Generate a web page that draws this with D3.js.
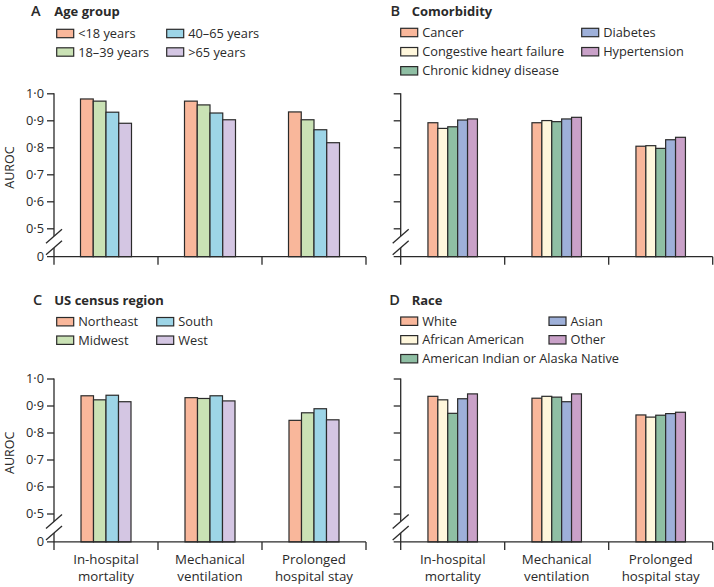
<!DOCTYPE html>
<html>
<head>
<meta charset="utf-8">
<script src="https://cdn.jsdelivr.net/npm/d3@7"></script>
<style>
  html, body { margin: 0; padding: 0; background: #fff; }
  svg { display: block; font-family: "Open Sans", "Noto Sans", sans-serif; }
</style>
</head>
<body>
<svg id="chart" width="714" height="587"></svg>
<script>
// ---------- data ----------
const categories = ["In-hospital mortality", "Mechanical ventilation", "Prolonged hospital stay"];
const categoryLines = [["In-hospital", "mortality"], ["Mechanical", "ventilation"], ["Prolonged", "hospital stay"]];
const yTicks = [0.5, 0.6, 0.7, 0.8, 0.9, 1.0];

const ageGroups = ["<18 years", "18–39 years", "40–65 years", ">65 years"];
const ageValues = [
  [0.979, 0.971, 0.930, 0.889],
  [0.971, 0.957, 0.927, 0.902],
  [0.931, 0.902, 0.865, 0.817]
];

const comorbidities = ["Cancer", "Congestive heart failure", "Chronic kidney disease", "Diabetes", "Hypertension"];
const comorbidityValues = [
  [0.891, 0.870, 0.876, 0.901, 0.905],
  [0.891, 0.899, 0.895, 0.905, 0.911],
  [0.804, 0.806, 0.796, 0.828, 0.837]
];

const regions = ["Northeast", "Midwest", "South", "West"];
const regionValues = [
  [0.936, 0.921, 0.938, 0.914],
  [0.929, 0.926, 0.936, 0.917],
  [0.845, 0.873, 0.888, 0.847]
];

const races = ["White", "African American", "American Indian or Alaska Native", "Asian", "Other"];
const raceValues = [
  [0.934, 0.921, 0.871, 0.925, 0.943],
  [0.927, 0.934, 0.931, 0.914, 0.943],
  [0.865, 0.857, 0.864, 0.870, 0.875]
];

// ---------- styles ----------
const ageColors = ["#f9b79b", "#cae2b5", "#9dd5e7", "#d4c6e3"];
const comorbColors = ["#f9b79b", "#fff7dc", "#8fbfa4", "#9eb0d9", "#c9a1c8"];
const regionColors = ["#f9b79b", "#cae2b5", "#9dd5e7", "#d4c6e3"];
const raceColors = ["#f9b79b", "#fff7dc", "#8fbfa4", "#9eb0d9", "#c9a1c8"];

const ink = "#2a2a2a";
const svg = d3.select("#chart");

const panels = [
  { letter: "A", title: "Age group", series: ageGroups, values: ageValues, colors: ageColors,
    axisX: 54, top: 93.3, letterX: 31, titleX: 54.3, titleY: 15.5,
    legCols: [56.7, 166.7], legRows: [33.5, 52], rowsPerCol: 2, groupW: 51,
    yLabels: true, xLabels: false },
  { letter: "B", title: "Comorbidity", series: comorbidities, values: comorbidityValues, colors: comorbColors,
    axisX: 400.7, top: 93.3, letterX: 390.5, titleX: 411.7, titleY: 15.5,
    legCols: [400.7, 581.7], legRows: [32.5, 51.7, 70.8], rowsPerCol: 3, groupW: 49.5,
    yLabels: false, xLabels: false },
  { letter: "C", title: "US census region", series: regions, values: regionValues, colors: regionColors,
    axisX: 54, top: 378.5, letterX: 33, titleX: 54.3, titleY: 304.5,
    legCols: [56.7, 156.7], legRows: [321.7, 340.2], rowsPerCol: 2, groupW: 50,
    yLabels: true, xLabels: true },
  { letter: "D", title: "Race", series: races, values: raceValues, colors: raceColors,
    axisX: 400.7, top: 378.5, letterX: 389.3, titleX: 411.7, titleY: 304.5,
    legCols: [400.7, 549], legRows: [321.2, 339.8, 358.7], rowsPerCol: 3, groupW: 49.5,
    yLabels: false, xLabels: true }
];

const fmt = v => d3.format(".1f")(v).replace(".", "·");

panels.forEach(p => {
  const g = svg.append("g");
  const y = d3.scaleLinear().domain([0.5, 1.0]).range([p.top + 135, p.top]);
  const base = p.top + 163.4;
  const x0 = d3.scaleBand().domain(categories).range([p.axisX, p.axisX + 312]).padding(0);
  const x1 = d3.scaleBand().domain(p.series)
    .range([(x0.bandwidth() - p.groupW) / 2, (x0.bandwidth() + p.groupW) / 2]).padding(0);
  const color = d3.scaleOrdinal().domain(p.series).range(p.colors);

  // title
  g.append("text").attr("x", p.letterX).attr("y", p.titleY)
    .attr("font-size", 14.5).attr("font-weight", 600).attr("fill", ink).text(p.letter);
  g.append("text").attr("x", p.titleX).attr("y", p.titleY)
    .attr("font-size", 13).attr("font-weight", 700).attr("fill", ink).text(p.title);

  // legend
  p.series.forEach((s, i) => {
    const col = Math.floor(i / p.rowsPerCol), row = i % p.rowsPerCol;
    const lx = p.legCols[col], ly = p.legRows[row];
    g.append("rect").attr("x", lx).attr("y", ly - 4.2).attr("width", 17).attr("height", 8.4)
      .attr("fill", color(s)).attr("stroke", ink).attr("stroke-width", 1.2);
    g.append("text").attr("x", lx + 21.5).attr("y", ly + 4.5)
      .attr("font-size", 12.8).attr("fill", ink).text(s);
  });

  // bars
  const groups = g.append("g").selectAll("g").data(categories).join("g")
    .attr("transform", c => `translate(${x0(c)},0)`);
  groups.selectAll("rect")
    .data((c, ci) => p.series.map((s, si) => ({ s, v: p.values[ci][si] })))
    .join("rect")
    .attr("x", d => x1(d.s)).attr("width", x1.bandwidth())
    .attr("y", d => y(d.v)).attr("height", d => base - y(d.v))
    .attr("fill", d => color(d.s)).attr("stroke", ink).attr("stroke-width", 1.2);

  // y axis (ticks via d3 axis)
  const yAxis = d3.axisLeft(y).tickValues(yTicks).tickSize(7).tickPadding(3)
    .tickFormat(p.yLabels ? fmt : "");
  const ya = g.append("g").attr("transform", `translate(${p.axisX},0)`).call(yAxis);
  ya.select(".domain").remove();
  ya.selectAll(".tick line").attr("stroke", ink).attr("stroke-width", 1.3);
  ya.selectAll(".tick text").attr("font-size", 12.8).attr("fill", ink).attr("font-family", "Open Sans");
  // vertical axis line from 1.0 to baseline
  g.append("line").attr("x1", p.axisX).attr("x2", p.axisX).attr("y1", y(1.0)).attr("y2", base)
    .attr("stroke", ink).attr("stroke-width", 1.3);
  if (p.yLabels) {
    g.append("text").attr("x", p.axisX - 10).attr("y", base + 4.5)
      .attr("text-anchor", "end").attr("font-size", 12.8).attr("fill", ink).text("0");
    g.append("text").attr("transform", `translate(14,${y(0.725)}) rotate(-90)`)
      .attr("text-anchor", "middle").attr("font-size", 12.5).attr("fill", ink).text("AUROC");
  }

  // axis break
  const ax = p.axisX;
  g.append("path")
    .attr("d", `M${ax - 8},${base - 13.5} L${ax + 8},${base - 27.5} L${ax + 8},${base - 16} L${ax - 8},${base - 2} Z`)
    .attr("fill", "#fff");
  [[-13.5, -27.5], [-2, -16]].forEach(([a, b]) => {
    g.append("line").attr("x1", ax - 8).attr("y1", base + a).attr("x2", ax + 8).attr("y2", base + b)
      .attr("stroke", ink).attr("stroke-width", 1.3);
  });

  // x axis
  g.append("line").attr("x1", p.axisX - 7).attr("x2", p.axisX + 312).attr("y1", base).attr("y2", base)
    .attr("stroke", ink).attr("stroke-width", 1.3);
  const xTickPos = categories.map(c => x0(c)).concat([x0(categories[2]) + x0.bandwidth()]);
  xTickPos.forEach(t => {
    g.append("line").attr("x1", t).attr("x2", t).attr("y1", base).attr("y2", base + 8)
      .attr("stroke", ink).attr("stroke-width", 1.3);
  });
  if (p.xLabels) {
    categories.forEach((c, ci) => {
      const t = g.append("text").attr("x", x0(c) + x0.bandwidth() / 2).attr("y", base + 22)
        .attr("text-anchor", "middle").attr("font-size", 13.3).attr("fill", ink);
      categoryLines[ci].forEach((ln, li) => {
        t.append("tspan").attr("x", x0(c) + x0.bandwidth() / 2).attr("dy", li === 0 ? 0 : 17.5).text(ln);
      });
    });
  }
});
</script>
</body>
</html>
